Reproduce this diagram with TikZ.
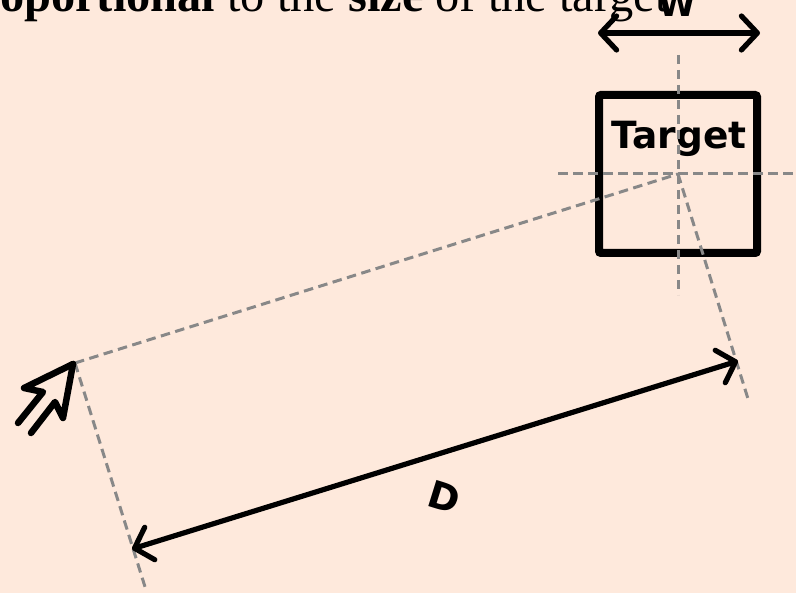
\documentclass[tikz,border=0pt]{standalone}
\usepackage{fontspec}
\setmainfont{Liberation Serif}
\newfontfamily\dejavu{DejaVu Sans}
\usetikzlibrary{arrows.meta}
\definecolor{bgc}{HTML}{FEE9DC}
\definecolor{guide}{HTML}{888888}
\tikzset{
  guideline/.style={draw=guide,line width=3pt,dash pattern=on 9.5pt off 5.5pt},
  measure/.style={draw=black,line width=5.2pt,line cap=round,line join=round,
    {Straight Barb[length=16pt,width=34pt,line width=5.2pt,round]}-{Straight Barb[length=16pt,width=34pt,line width=5.2pt,round]}},
  dvlabel/.style={font=\dejavu\bfseries\fontsize{37.5}{37.5}\selectfont,inner sep=0pt,text=black},
}
\begin{document}
\begin{tikzpicture}[x=1pt,y=-1pt]
\useasboundingbox (0,0) rectangle (796,593);
\clip (0,0) rectangle (796,593);
\fill[bgc] (0,0) rectangle (796,593);
\node[anchor=base west,inner sep=0pt,font=\fontsize{48.4}{48}\selectfont] (headline) at (0,12) {\textbf{oportional} to the \textbf{size} of the target};
\coordinate (hl) at (558,174);\coordinate (hr) at (796,174);
\coordinate (vt) at (678,55);\coordinate (vb) at (678,295);
\coordinate (center) at (678,174);
\coordinate (cursor) at (75,363);
\coordinate (dl) at (132,549);\coordinate (dr) at (738,361);
\coordinate (extl) at (146,590);\coordinate (extr) at (749,402);
\coordinate (wl) at (598,33);\coordinate (wr) at (760,33);
\node[draw=black,line width=8pt,rounded corners=2pt,minimum size=158pt,inner sep=0pt,anchor=center] (box) at (678,174) {};
\node[dvlabel] (target) at (679,139) {Target};
\node[anchor=base,font=\dejavu\bfseries\fontsize{34}{34}\selectfont,inner sep=0pt] (wlabel) at (677.5,17) {W};
\node[dvlabel,rotate=-17.3] (dlabel) at (444,497) {D};
\draw[guideline] (hl) -- (hr);
\draw[guideline] (vt) -- (vb);
\draw[guideline] (cursor) -- (center);
\draw[guideline] (center) -- (extr);
\draw[guideline] (cursor) -- (extl);
\draw[measure] (wl) -- (wr);
\draw[measure] (dl) -- (dr);
\draw[black,line width=6.5pt,line join=round,line cap=round] (73,364) -- (24,388) -- (43,392) -- (18,423);
\draw[black,line width=6.5pt,line join=round,line cap=round] (73,364) -- (63,418) -- (55,402) -- (31,433);
\end{tikzpicture}
\end{document}
